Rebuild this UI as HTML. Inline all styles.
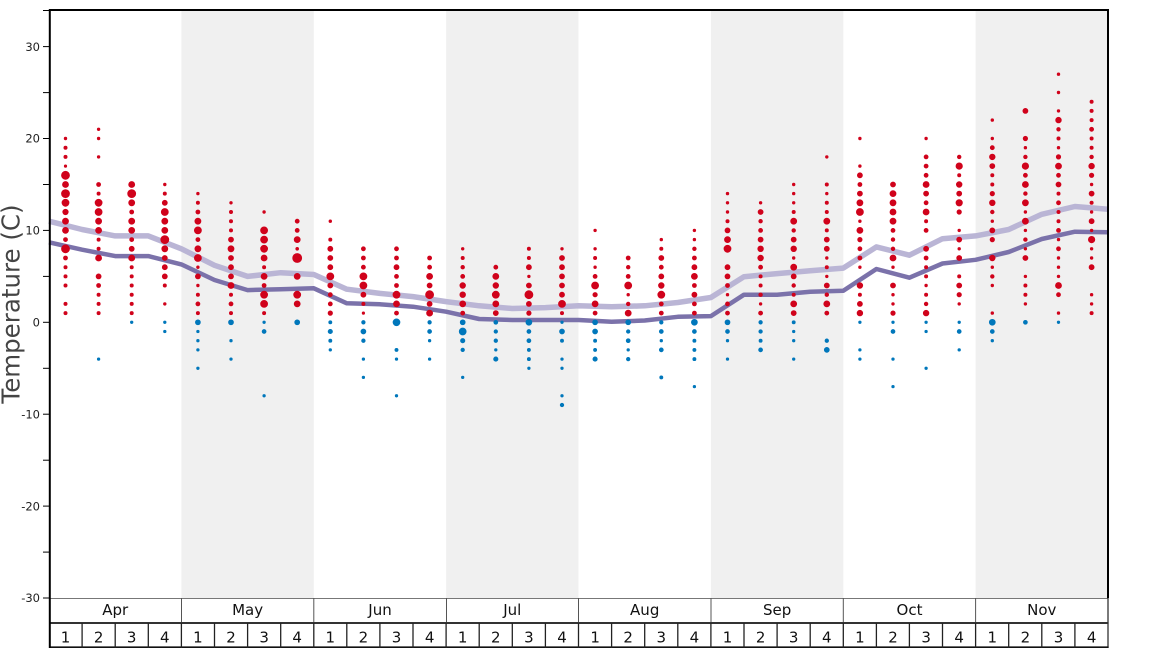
<!DOCTYPE html>
<html><head><meta charset="utf-8"><style>
html,body{margin:0;padding:0;background:#fff;}
svg{display:block;font-family:"DejaVu Sans","Liberation Sans",sans-serif;}
</style></head><body>
<svg width="1168" height="648" viewBox="0 0 1168 648" xmlns="http://www.w3.org/2000/svg">
<rect width="1168" height="648" fill="#fff"/>
<g fill="#f0f0f0">
<rect x="181.4" y="10" width="132.4" height="588"/>
<rect x="446.1" y="10" width="132.4" height="588"/>
<rect x="710.9" y="10" width="132.4" height="588"/>
<rect x="975.6" y="10" width="132.4" height="588"/>
</g>
<polyline fill="none" stroke="#bab5d5" stroke-width="5.5" stroke-linejoin="round" points="49,221.2 82.1,229.5 115.2,235.9 148.3,235.9 181.4,248.8 214.5,265.3 247.6,276.4 280.7,272.7 313.8,274.5 346.8,289.2 379.9,293.4 413,296.6 446.1,301.6 479.2,305.8 512.3,308.5 545.4,307.6 578.5,305.8 611.6,306.7 644.7,305.8 677.8,302.5 710.9,297.5 744,276.7 777.1,273.6 810.2,270.8 843.3,268.1 876.4,246.9 909.4,255.2 942.5,238.7 975.6,235.9 1008.7,229.5 1041.8,214.3 1074.9,206.5 1108,209.3"/>
<polyline fill="none" stroke="#7b72aa" stroke-width="4.5" stroke-linejoin="round" points="49,242.3 82.1,249.7 115.2,256.1 148.3,256.1 181.4,264.4 214.5,280 247.6,290.1 280.7,289.2 313.8,288.3 346.8,303.3 379.9,304.3 413,306.7 446.1,311.7 479.2,319 512.3,320 545.4,320 578.5,320 611.6,321.7 644.7,320.5 677.8,316.8 710.9,316.1 744,294.7 777.1,294.7 810.2,291.7 843.3,290.7 876.4,269 909.4,277.7 942.5,263.5 975.6,259.8 1008.7,252 1041.8,239 1074.9,231.7 1108,232.2"/>

<g fill="#d0021b" stroke="#d0021b" stroke-width="0.8">
<g transform="translate(65.5 0)"><circle cy="138.5" r="1.3"/><circle cy="147.7" r="1.6"/><circle cy="156.9" r="1.6"/><circle cy="166.1" r="1.2"/><circle cy="175.3" r="4"/><circle cy="184.5" r="3"/><circle cy="193.6" r="4"/><circle cy="202.8" r="3.5"/><circle cy="212" r="2.7"/><circle cy="221.2" r="3"/><circle cy="230.4" r="3"/><circle cy="239.6" r="2"/><circle cy="248.8" r="4"/><circle cy="258" r="2"/><circle cy="267.2" r="1.6"/><circle cy="276.4" r="1.6"/><circle cy="285.5" r="1.6"/><circle cy="303.9" r="1.6"/><circle cy="313.1" r="1.6"/></g>
<g transform="translate(98.6 0)"><circle cy="129.3" r="1.3"/><circle cy="138.5" r="1.3"/><circle cy="156.9" r="1.3"/><circle cy="184.5" r="2"/><circle cy="193.6" r="1.6"/><circle cy="202.8" r="3.5"/><circle cy="212" r="3.5"/><circle cy="221.2" r="3"/><circle cy="230.4" r="3"/><circle cy="239.6" r="1.6"/><circle cy="248.8" r="1.6"/><circle cy="258" r="3"/><circle cy="276.4" r="2.5"/><circle cy="285.5" r="2"/><circle cy="294.7" r="1.6"/><circle cy="303.9" r="1.6"/><circle cy="313.1" r="1.6"/></g>
<g transform="translate(131.7 0)"><circle cy="184.5" r="3"/><circle cy="193.6" r="4"/><circle cy="202.8" r="3"/><circle cy="212" r="2"/><circle cy="221.2" r="3"/><circle cy="230.4" r="3"/><circle cy="239.6" r="2"/><circle cy="248.8" r="2.5"/><circle cy="258" r="3"/><circle cy="267.2" r="1.6"/><circle cy="276.4" r="1.6"/><circle cy="285.5" r="1.6"/><circle cy="294.7" r="1.6"/><circle cy="303.9" r="1.6"/><circle cy="313.1" r="1.6"/></g>
<g transform="translate(164.8 0)"><circle cy="184.5" r="1.3"/><circle cy="193.6" r="1.6"/><circle cy="202.8" r="2.5"/><circle cy="212" r="3.5"/><circle cy="221.2" r="3"/><circle cy="230.4" r="3"/><circle cy="239.6" r="4"/><circle cy="248.8" r="3"/><circle cy="258" r="2.5"/><circle cy="267.2" r="2.5"/><circle cy="276.4" r="2.5"/><circle cy="285.5" r="1.6"/><circle cy="303.9" r="1.3"/></g>
<g transform="translate(197.9 0)"><circle cy="193.6" r="1.3"/><circle cy="202.8" r="1.6"/><circle cy="212" r="2"/><circle cy="221.2" r="3"/><circle cy="230.4" r="3.5"/><circle cy="239.6" r="2"/><circle cy="248.8" r="3"/><circle cy="258" r="3.5"/><circle cy="267.2" r="1.3"/><circle cy="276.4" r="2.5"/><circle cy="285.5" r="1.3"/><circle cy="294.7" r="1.6"/><circle cy="303.9" r="2"/><circle cy="313.1" r="1.6"/></g>
<g transform="translate(231 0)"><circle cy="202.8" r="1.3"/><circle cy="212" r="1.6"/><circle cy="221.2" r="1.6"/><circle cy="230.4" r="1.6"/><circle cy="239.6" r="2.5"/><circle cy="248.8" r="3"/><circle cy="258" r="2.5"/><circle cy="267.2" r="2.5"/><circle cy="276.4" r="2.5"/><circle cy="285.5" r="3"/><circle cy="294.7" r="1.6"/><circle cy="303.9" r="2"/><circle cy="313.1" r="1.6"/></g>
<g transform="translate(264.1 0)"><circle cy="212" r="1.3"/><circle cy="230.4" r="3.5"/><circle cy="239.6" r="3.5"/><circle cy="248.8" r="3.5"/><circle cy="258" r="3"/><circle cy="267.2" r="1.6"/><circle cy="276.4" r="3"/><circle cy="285.5" r="2"/><circle cy="294.7" r="3.5"/><circle cy="303.9" r="3.5"/><circle cy="313.1" r="1.6"/></g>
<g transform="translate(297.2 0)"><circle cy="221.2" r="2"/><circle cy="230.4" r="2"/><circle cy="239.6" r="3"/><circle cy="248.8" r="1.4"/><circle cy="258" r="4.5"/><circle cy="276.4" r="3"/><circle cy="294.7" r="3.5"/><circle cy="303.9" r="3"/></g>
<g transform="translate(330.3 0)"><circle cy="221.2" r="1.3"/><circle cy="239.6" r="1.6"/><circle cy="248.8" r="2.5"/><circle cy="258" r="2.5"/><circle cy="267.2" r="2.5"/><circle cy="276.4" r="3.5"/><circle cy="285.5" r="2.5"/><circle cy="294.7" r="2"/><circle cy="303.9" r="2"/><circle cy="313.1" r="2.2"/></g>
<g transform="translate(363.4 0)"><circle cy="248.8" r="2"/><circle cy="258" r="2"/><circle cy="267.2" r="2"/><circle cy="276.4" r="3.5"/><circle cy="285.5" r="3.5"/><circle cy="294.7" r="2.5"/><circle cy="303.9" r="1.6"/><circle cy="313.1" r="1.2"/></g>
<g transform="translate(396.5 0)"><circle cy="248.8" r="2"/><circle cy="258" r="2"/><circle cy="267.2" r="2.5"/><circle cy="276.4" r="2"/><circle cy="285.5" r="2"/><circle cy="294.7" r="3.5"/><circle cy="303.9" r="3"/><circle cy="313.1" r="2"/></g>
<g transform="translate(429.6 0)"><circle cy="258" r="2"/><circle cy="267.2" r="2"/><circle cy="276.4" r="3"/><circle cy="285.5" r="2.5"/><circle cy="294.7" r="4"/><circle cy="303.9" r="2.5"/><circle cy="313.1" r="3"/></g>
<g transform="translate(462.7 0)"><circle cy="248.8" r="1.3"/><circle cy="258" r="1.6"/><circle cy="267.2" r="1.8"/><circle cy="276.4" r="2"/><circle cy="285.5" r="2.8"/><circle cy="294.7" r="2.8"/><circle cy="303.9" r="3"/><circle cy="313.1" r="2"/></g>
<g transform="translate(495.8 0)"><circle cy="267.2" r="2"/><circle cy="276.4" r="3"/><circle cy="285.5" r="2.8"/><circle cy="294.7" r="3.5"/><circle cy="303.9" r="3"/><circle cy="313.1" r="2.5"/></g>
<g transform="translate(528.9 0)"><circle cy="248.8" r="1.6"/><circle cy="258" r="1.6"/><circle cy="267.2" r="2.5"/><circle cy="276.4" r="1.3"/><circle cy="285.5" r="2.5"/><circle cy="294.7" r="4"/><circle cy="303.9" r="2.5"/><circle cy="313.1" r="2.2"/></g>
<g transform="translate(562 0)"><circle cy="248.8" r="1.3"/><circle cy="258" r="2.5"/><circle cy="267.2" r="2.5"/><circle cy="276.4" r="2.5"/><circle cy="285.5" r="2.5"/><circle cy="294.7" r="2.5"/><circle cy="303.9" r="3.5"/><circle cy="313.1" r="1.6"/></g>
<g transform="translate(595.1 0)"><circle cy="230.4" r="1.3"/><circle cy="248.8" r="1.3"/><circle cy="258" r="1.6"/><circle cy="267.2" r="1.3"/><circle cy="276.4" r="2"/><circle cy="285.5" r="3.5"/><circle cy="294.7" r="2.2"/><circle cy="303.9" r="3"/><circle cy="313.1" r="2"/></g>
<g transform="translate(628.2 0)"><circle cy="258" r="2"/><circle cy="267.2" r="1.8"/><circle cy="276.4" r="2"/><circle cy="285.5" r="3.5"/><circle cy="294.7" r="1.3"/><circle cy="303.9" r="1.8"/><circle cy="313.1" r="3"/></g>
<g transform="translate(661.3 0)"><circle cy="239.6" r="1.3"/><circle cy="248.8" r="1.6"/><circle cy="258" r="2.5"/><circle cy="267.2" r="2"/><circle cy="276.4" r="2.5"/><circle cy="285.5" r="2.8"/><circle cy="294.7" r="3.5"/><circle cy="303.9" r="2"/><circle cy="313.1" r="2"/></g>
<g transform="translate(694.4 0)"><circle cy="230.4" r="1.3"/><circle cy="239.6" r="1.3"/><circle cy="248.8" r="1.8"/><circle cy="258" r="2"/><circle cy="267.2" r="2.5"/><circle cy="276.4" r="3"/><circle cy="285.5" r="2"/><circle cy="294.7" r="2.5"/><circle cy="303.9" r="2"/><circle cy="313.1" r="2"/></g>
<g transform="translate(727.5 0)"><circle cy="193.6" r="1.3"/><circle cy="202.8" r="1.3"/><circle cy="212" r="1.3"/><circle cy="221.2" r="1.6"/><circle cy="230.4" r="2.5"/><circle cy="239.6" r="3"/><circle cy="248.8" r="3.5"/><circle cy="267.2" r="2.5"/><circle cy="276.4" r="2.5"/><circle cy="285.5" r="2"/><circle cy="294.7" r="1.3"/><circle cy="303.9" r="2"/><circle cy="313.1" r="2"/></g>
<g transform="translate(760.6 0)"><circle cy="202.8" r="1.3"/><circle cy="212" r="2.5"/><circle cy="221.2" r="1.8"/><circle cy="230.4" r="2"/><circle cy="239.6" r="2.5"/><circle cy="248.8" r="2.8"/><circle cy="258" r="2.8"/><circle cy="267.2" r="2"/><circle cy="276.4" r="1.6"/><circle cy="285.5" r="1.6"/><circle cy="294.7" r="1.8"/><circle cy="303.9" r="1.3"/><circle cy="313.1" r="2"/></g>
<g transform="translate(793.7 0)"><circle cy="184.5" r="1.3"/><circle cy="193.6" r="1.3"/><circle cy="202.8" r="1.3"/><circle cy="212" r="1.6"/><circle cy="221.2" r="3"/><circle cy="230.4" r="1.8"/><circle cy="239.6" r="2.5"/><circle cy="248.8" r="2.8"/><circle cy="258" r="1.3"/><circle cy="267.2" r="3"/><circle cy="276.4" r="2.5"/><circle cy="285.5" r="1.8"/><circle cy="294.7" r="1.6"/><circle cy="303.9" r="3"/><circle cy="313.1" r="2.5"/></g>
<g transform="translate(826.8 0)"><circle cy="156.9" r="1.3"/><circle cy="184.5" r="1.6"/><circle cy="193.6" r="1.3"/><circle cy="202.8" r="1.6"/><circle cy="212" r="1.6"/><circle cy="221.2" r="3"/><circle cy="230.4" r="1.6"/><circle cy="239.6" r="2.5"/><circle cy="248.8" r="2.5"/><circle cy="258" r="1.3"/><circle cy="267.2" r="1.6"/><circle cy="276.4" r="1.3"/><circle cy="285.5" r="2.5"/><circle cy="294.7" r="1.8"/><circle cy="303.9" r="3"/><circle cy="313.1" r="2"/></g>
<g transform="translate(859.9 0)"><circle cy="138.5" r="1.3"/><circle cy="166.1" r="1.3"/><circle cy="175.3" r="2.5"/><circle cy="184.5" r="2"/><circle cy="193.6" r="2.5"/><circle cy="202.8" r="3"/><circle cy="212" r="3.5"/><circle cy="221.2" r="1.3"/><circle cy="230.4" r="3"/><circle cy="239.6" r="2.2"/><circle cy="248.8" r="2"/><circle cy="258" r="2"/><circle cy="267.2" r="1.3"/><circle cy="285.5" r="2.8"/><circle cy="294.7" r="1.6"/><circle cy="303.9" r="2.5"/><circle cy="313.1" r="2.8"/></g>
<g transform="translate(893 0)"><circle cy="184.5" r="2.5"/><circle cy="193.6" r="3"/><circle cy="202.8" r="3"/><circle cy="212" r="3"/><circle cy="221.2" r="3"/><circle cy="230.4" r="2"/><circle cy="239.6" r="1.8"/><circle cy="248.8" r="1.8"/><circle cy="258" r="3"/><circle cy="267.2" r="1.3"/><circle cy="285.5" r="2.5"/><circle cy="294.7" r="1.3"/><circle cy="303.9" r="1.3"/><circle cy="313.1" r="2.2"/></g>
<g transform="translate(926.1 0)"><circle cy="138.5" r="1.3"/><circle cy="156.9" r="2"/><circle cy="166.1" r="2"/><circle cy="175.3" r="2"/><circle cy="184.5" r="3"/><circle cy="193.6" r="2.5"/><circle cy="202.8" r="2"/><circle cy="212" r="3"/><circle cy="221.2" r="1.6"/><circle cy="230.4" r="2"/><circle cy="248.8" r="2.5"/><circle cy="258" r="2"/><circle cy="267.2" r="1.6"/><circle cy="276.4" r="1.6"/><circle cy="285.5" r="1.3"/><circle cy="294.7" r="1.6"/><circle cy="303.9" r="1.8"/><circle cy="313.1" r="2.8"/></g>
<g transform="translate(959.2 0)"><circle cy="156.9" r="1.8"/><circle cy="166.1" r="3.2"/><circle cy="175.3" r="1.6"/><circle cy="184.5" r="2.8"/><circle cy="193.6" r="2.5"/><circle cy="202.8" r="3.2"/><circle cy="212" r="2.2"/><circle cy="230.4" r="1.3"/><circle cy="239.6" r="2.5"/><circle cy="248.8" r="1.3"/><circle cy="258" r="2.5"/><circle cy="276.4" r="1.6"/><circle cy="285.5" r="2.5"/><circle cy="294.7" r="2.2"/><circle cy="303.9" r="1.3"/></g>
<g transform="translate(992.3 0)"><circle cy="120.1" r="1.3"/><circle cy="138.5" r="1.3"/><circle cy="147.7" r="2"/><circle cy="156.9" r="2.8"/><circle cy="166.1" r="2.5"/><circle cy="175.3" r="1.6"/><circle cy="184.5" r="1.6"/><circle cy="193.6" r="2.2"/><circle cy="202.8" r="2.8"/><circle cy="212" r="1.8"/><circle cy="221.2" r="1.3"/><circle cy="230.4" r="2.5"/><circle cy="239.6" r="2.2"/><circle cy="258" r="2.8"/><circle cy="267.2" r="1.3"/><circle cy="276.4" r="1.8"/><circle cy="285.5" r="1.3"/><circle cy="313.1" r="1.3"/></g>
<g transform="translate(1025.4 0)"><circle cy="110.9" r="2.5"/><circle cy="138.5" r="2.2"/><circle cy="147.7" r="1.3"/><circle cy="156.9" r="1.8"/><circle cy="166.1" r="3.2"/><circle cy="175.3" r="2"/><circle cy="184.5" r="3"/><circle cy="193.6" r="1.8"/><circle cy="202.8" r="3"/><circle cy="212" r="1.3"/><circle cy="221.2" r="3"/><circle cy="230.4" r="1.3"/><circle cy="239.6" r="1.8"/><circle cy="248.8" r="1.3"/><circle cy="258" r="2.5"/><circle cy="276.4" r="1.3"/><circle cy="285.5" r="1.6"/><circle cy="294.7" r="1.6"/><circle cy="303.9" r="1.3"/></g>
<g transform="translate(1058.5 0)"><circle cy="74.2" r="1.3"/><circle cy="92.5" r="1.3"/><circle cy="110.9" r="1.3"/><circle cy="120.1" r="2.8"/><circle cy="129.3" r="1.8"/><circle cy="138.5" r="1.6"/><circle cy="147.7" r="1.3"/><circle cy="156.9" r="2.2"/><circle cy="166.1" r="3"/><circle cy="175.3" r="2"/><circle cy="184.5" r="2.5"/><circle cy="193.6" r="1.6"/><circle cy="202.8" r="2"/><circle cy="212" r="1.6"/><circle cy="221.2" r="1.6"/><circle cy="230.4" r="2"/><circle cy="239.6" r="1.3"/><circle cy="248.8" r="2"/><circle cy="258" r="1.3"/><circle cy="267.2" r="1.3"/><circle cy="276.4" r="1.3"/><circle cy="285.5" r="3"/><circle cy="294.7" r="2"/><circle cy="313.1" r="1.3"/></g>
<g transform="translate(1091.6 0)"><circle cy="101.7" r="1.6"/><circle cy="110.9" r="1.6"/><circle cy="120.1" r="1.6"/><circle cy="129.3" r="2"/><circle cy="138.5" r="1.6"/><circle cy="147.7" r="1.6"/><circle cy="156.9" r="1.8"/><circle cy="166.1" r="2.8"/><circle cy="175.3" r="2.2"/><circle cy="184.5" r="1.3"/><circle cy="193.6" r="2.5"/><circle cy="202.8" r="1.6"/><circle cy="212" r="1.3"/><circle cy="221.2" r="2.5"/><circle cy="230.4" r="1.3"/><circle cy="239.6" r="3.2"/><circle cy="248.8" r="1.3"/><circle cy="258" r="1.3"/><circle cy="267.2" r="2.5"/><circle cy="294.7" r="1.3"/><circle cy="303.9" r="1.3"/><circle cy="313.1" r="1.6"/></g>
</g>

<g fill="#0077bb" stroke="#0077bb" stroke-width="0.7">
<g transform="translate(98.6 0)"><circle cy="359.1" r="1.3"/></g>
<g transform="translate(131.7 0)"><circle cy="322.3" r="1.3"/></g>
<g transform="translate(164.8 0)"><circle cy="322.3" r="1.3"/><circle cy="331.5" r="1.3"/></g>
<g transform="translate(197.9 0)"><circle cy="322.3" r="2.5"/><circle cy="331.5" r="1.3"/><circle cy="340.7" r="1.3"/><circle cy="349.9" r="1.3"/><circle cy="368.3" r="1.3"/></g>
<g transform="translate(231 0)"><circle cy="322.3" r="2.5"/><circle cy="340.7" r="1.3"/><circle cy="359.1" r="1.3"/></g>
<g transform="translate(264.1 0)"><circle cy="322.3" r="1.3"/><circle cy="331.5" r="2"/><circle cy="395.8" r="1.3"/></g>
<g transform="translate(297.2 0)"><circle cy="322.3" r="2.5"/></g>
<g transform="translate(330.3 0)"><circle cy="322.3" r="1.6"/><circle cy="331.5" r="2.2"/><circle cy="340.7" r="1.6"/><circle cy="349.9" r="1.3"/></g>
<g transform="translate(363.4 0)"><circle cy="322.3" r="1.8"/><circle cy="331.5" r="2.5"/><circle cy="340.7" r="1.8"/><circle cy="359.1" r="1.3"/><circle cy="377.4" r="1.3"/></g>
<g transform="translate(396.5 0)"><circle cy="322.3" r="3.5"/><circle cy="349.9" r="1.6"/><circle cy="359.1" r="1.3"/><circle cy="395.8" r="1.3"/></g>
<g transform="translate(429.6 0)"><circle cy="322.3" r="1.8"/><circle cy="331.5" r="2"/><circle cy="340.7" r="1.3"/><circle cy="359.1" r="1.3"/></g>
<g transform="translate(462.7 0)"><circle cy="322.3" r="2.5"/><circle cy="331.5" r="3.5"/><circle cy="340.7" r="2.2"/><circle cy="349.9" r="1.8"/><circle cy="377.4" r="1.3"/></g>
<g transform="translate(495.8 0)"><circle cy="322.3" r="2"/><circle cy="331.5" r="1.8"/><circle cy="340.7" r="1.8"/><circle cy="349.9" r="1.3"/><circle cy="359.1" r="2.2"/></g>
<g transform="translate(528.9 0)"><circle cy="322.3" r="3"/><circle cy="331.5" r="2"/><circle cy="340.7" r="2"/><circle cy="349.9" r="1.6"/><circle cy="359.1" r="1.6"/><circle cy="368.3" r="1.3"/></g>
<g transform="translate(562 0)"><circle cy="322.3" r="1.3"/><circle cy="331.5" r="2.5"/><circle cy="340.7" r="1.6"/><circle cy="359.1" r="1.3"/><circle cy="368.3" r="1.3"/><circle cy="395.8" r="1.3"/><circle cy="405" r="1.8"/></g>
<g transform="translate(595.1 0)"><circle cy="322.3" r="2.5"/><circle cy="331.5" r="2.5"/><circle cy="340.7" r="1.6"/><circle cy="349.9" r="1.6"/><circle cy="359.1" r="2.2"/></g>
<g transform="translate(628.2 0)"><circle cy="322.3" r="2.5"/><circle cy="331.5" r="1.8"/><circle cy="340.7" r="2"/><circle cy="349.9" r="1.3"/><circle cy="359.1" r="1.8"/></g>
<g transform="translate(661.3 0)"><circle cy="322.3" r="1.8"/><circle cy="331.5" r="2"/><circle cy="340.7" r="1.3"/><circle cy="349.9" r="2"/><circle cy="377.4" r="1.6"/></g>
<g transform="translate(694.4 0)"><circle cy="322.3" r="3"/><circle cy="331.5" r="2"/><circle cy="340.7" r="1.6"/><circle cy="349.9" r="1.6"/><circle cy="359.1" r="1.6"/><circle cy="386.6" r="1.3"/></g>
<g transform="translate(727.5 0)"><circle cy="322.3" r="2.5"/><circle cy="331.5" r="2"/><circle cy="340.7" r="1.3"/><circle cy="359.1" r="1.3"/></g>
<g transform="translate(760.6 0)"><circle cy="322.3" r="1.8"/><circle cy="331.5" r="1.8"/><circle cy="340.7" r="1.6"/><circle cy="349.9" r="2"/></g>
<g transform="translate(793.7 0)"><circle cy="322.3" r="1.6"/><circle cy="331.5" r="1.3"/><circle cy="340.7" r="1.3"/><circle cy="359.1" r="1.3"/></g>
<g transform="translate(826.8 0)"><circle cy="340.7" r="1.8"/><circle cy="349.9" r="2.5"/></g>
<g transform="translate(859.9 0)"><circle cy="322.3" r="1.3"/><circle cy="349.9" r="1.3"/><circle cy="359.1" r="1.3"/></g>
<g transform="translate(893 0)"><circle cy="322.3" r="1.3"/><circle cy="331.5" r="2"/><circle cy="359.1" r="1.3"/><circle cy="386.6" r="1.3"/></g>
<g transform="translate(926.1 0)"><circle cy="322.3" r="1.3"/><circle cy="331.5" r="1.3"/><circle cy="368.3" r="1.3"/></g>
<g transform="translate(959.2 0)"><circle cy="322.3" r="1.3"/><circle cy="331.5" r="2"/><circle cy="349.9" r="1.3"/></g>
<g transform="translate(992.3 0)"><circle cy="322.3" r="3"/><circle cy="331.5" r="2"/><circle cy="340.7" r="1.3"/></g>
<g transform="translate(1025.4 0)"><circle cy="322.3" r="2"/></g>
<g transform="translate(1058.5 0)"><circle cy="322.3" r="1.3"/></g>
</g>

<!-- frame -->
<line x1="49" y1="598.5" x2="1108" y2="598.5" stroke="#777" stroke-width="1"/>
<line x1="49" y1="10" x2="1109" y2="10" stroke="#000" stroke-width="2"/>
<line x1="1108" y1="9" x2="1108" y2="598" stroke="#000" stroke-width="2"/>
<line x1="1108" y1="598" x2="1108" y2="648" stroke="#222" stroke-width="1.2"/>
<g stroke="#555" stroke-width="1">
<line x1="181.5" y1="598" x2="181.5" y2="623"/>
<line x1="313.8" y1="598" x2="313.8" y2="623"/>
<line x1="446.5" y1="598" x2="446.5" y2="623"/>
<line x1="578.5" y1="598" x2="578.5" y2="623"/>
<line x1="711" y1="598" x2="711" y2="623"/>
<line x1="843.3" y1="598" x2="843.3" y2="623"/>
<line x1="975.6" y1="598" x2="975.6" y2="623"/>
</g>
<line x1="49" y1="623" x2="1108.6" y2="623" stroke="#333" stroke-width="2"/>
<line x1="49" y1="647.2" x2="1108.6" y2="647.2" stroke="#111" stroke-width="1.6"/>
<g stroke="#222" stroke-width="1.3">
<line x1="82.1" y1="623" x2="82.1" y2="648"/><line x1="115.2" y1="623" x2="115.2" y2="648"/><line x1="148.3" y1="623" x2="148.3" y2="648"/><line x1="181.4" y1="623" x2="181.4" y2="648"/>
<line x1="214.5" y1="623" x2="214.5" y2="648"/><line x1="247.6" y1="623" x2="247.6" y2="648"/><line x1="280.7" y1="623" x2="280.7" y2="648"/><line x1="313.8" y1="623" x2="313.8" y2="648"/>
<line x1="346.8" y1="623" x2="346.8" y2="648"/><line x1="379.9" y1="623" x2="379.9" y2="648"/><line x1="413" y1="623" x2="413" y2="648"/><line x1="446.1" y1="623" x2="446.1" y2="648"/>
<line x1="479.2" y1="623" x2="479.2" y2="648"/><line x1="512.3" y1="623" x2="512.3" y2="648"/><line x1="545.4" y1="623" x2="545.4" y2="648"/><line x1="578.5" y1="623" x2="578.5" y2="648"/>
<line x1="611.6" y1="623" x2="611.6" y2="648"/><line x1="644.7" y1="623" x2="644.7" y2="648"/><line x1="677.8" y1="623" x2="677.8" y2="648"/><line x1="710.9" y1="623" x2="710.9" y2="648"/>
<line x1="744" y1="623" x2="744" y2="648"/><line x1="777.1" y1="623" x2="777.1" y2="648"/><line x1="810.2" y1="623" x2="810.2" y2="648"/><line x1="843.3" y1="623" x2="843.3" y2="648"/>
<line x1="876.4" y1="623" x2="876.4" y2="648"/><line x1="909.4" y1="623" x2="909.4" y2="648"/><line x1="942.5" y1="623" x2="942.5" y2="648"/><line x1="975.6" y1="623" x2="975.6" y2="648"/>
<line x1="1008.7" y1="623" x2="1008.7" y2="648"/><line x1="1041.8" y1="623" x2="1041.8" y2="648"/><line x1="1074.9" y1="623" x2="1074.9" y2="648"/>
</g>
<line x1="49.8" y1="9" x2="49.8" y2="648" stroke="#000" stroke-width="2"/>
<!-- y ticks -->
<g stroke="#000" stroke-width="1">
<line x1="43" y1="10.5" x2="49" y2="10.5"/>
<line x1="43" y1="46.6" x2="49" y2="46.6"/><line x1="43" y1="92.6" x2="49" y2="92.6"/>
<line x1="43" y1="138.5" x2="49" y2="138.5"/><line x1="43" y1="184.5" x2="49" y2="184.5"/>
<line x1="43" y1="230.4" x2="49" y2="230.4"/><line x1="43" y1="276.4" x2="49" y2="276.4"/>
<line x1="43" y1="322.3" x2="49" y2="322.3"/><line x1="43" y1="368.3" x2="49" y2="368.3"/>
<line x1="43" y1="414.2" x2="49" y2="414.2"/><line x1="43" y1="460.2" x2="49" y2="460.2"/>
<line x1="43" y1="506.1" x2="49" y2="506.1"/><line x1="43" y1="552.1" x2="49" y2="552.1"/>
<line x1="43" y1="598" x2="49" y2="598"/>
</g>
<g font-size="11.5" fill="#222" text-anchor="end">
<text x="40" y="50.8">30</text>
<text x="40" y="142.7">20</text>
<text x="40" y="234.6">10</text>
<text x="40" y="326.5">0</text>
<text x="40" y="418.4">-10</text>
<text x="40" y="510.3">-20</text>
<text x="40" y="602.2">-30</text>
</g>
<text transform="translate(19.5 304) rotate(-90)" text-anchor="middle" font-size="24.5" fill="#444">Temperature (C)</text>
<g font-size="15" fill="#111" text-anchor="middle">
<text x="115.2" y="615">Apr</text>
<text x="247.6" y="615">May</text>
<text x="380" y="615">Jun</text>
<text x="512.3" y="615">Jul</text>
<text x="644.7" y="615">Aug</text>
<text x="777.1" y="615">Sep</text>
<text x="909.5" y="615">Oct</text>
<text x="1041.8" y="615">Nov</text>
</g>
<g font-size="15" fill="#111" text-anchor="middle">
<text x="65.5" y="642.5">1</text><text x="98.6" y="642.5">2</text><text x="131.7" y="642.5">3</text><text x="164.8" y="642.5">4</text>
<text x="197.9" y="642.5">1</text><text x="231" y="642.5">2</text><text x="264.1" y="642.5">3</text><text x="297.2" y="642.5">4</text>
<text x="330.3" y="642.5">1</text><text x="363.4" y="642.5">2</text><text x="396.5" y="642.5">3</text><text x="429.6" y="642.5">4</text>
<text x="462.7" y="642.5">1</text><text x="495.8" y="642.5">2</text><text x="528.9" y="642.5">3</text><text x="562" y="642.5">4</text>
<text x="595.1" y="642.5">1</text><text x="628.2" y="642.5">2</text><text x="661.3" y="642.5">3</text><text x="694.4" y="642.5">4</text>
<text x="727.5" y="642.5">1</text><text x="760.6" y="642.5">2</text><text x="793.7" y="642.5">3</text><text x="826.8" y="642.5">4</text>
<text x="859.9" y="642.5">1</text><text x="893" y="642.5">2</text><text x="926.1" y="642.5">3</text><text x="959.2" y="642.5">4</text>
<text x="992.3" y="642.5">1</text><text x="1025.4" y="642.5">2</text><text x="1058.5" y="642.5">3</text><text x="1091.6" y="642.5">4</text>
</g>
</svg>
</body></html>
